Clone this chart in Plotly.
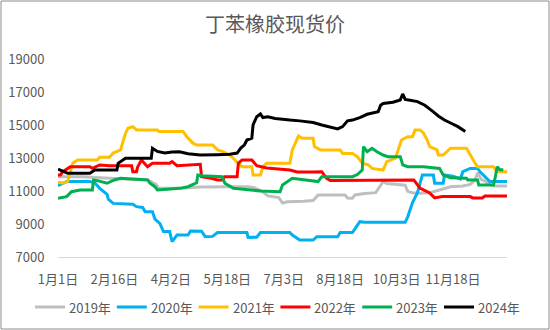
import plotly.graph_objects as go

# Day-of-year positions (leap-year calendar) and tick labels
tick_days = [0, 46, 92, 138, 184, 230, 276, 322]
tick_text = ["1月1日", "2月16日", "4月2日", "5月18日", "7月3日", "8月18日", "10月3日", "11月18日"]

y_ticks = [7000, 9000, 11000, 13000, 15000, 17000, 19000]
y_tick_text = [str(v) for v in y_ticks]

# 2019
day_2019 = [0, 20, 38, 55, 71, 73, 80, 82, 100, 112, 116, 140, 155, 160, 166, 171, 180, 183, 187,
            200, 208, 212, 234, 236, 240, 242, 250, 259, 262, 265, 268, 276, 283, 285, 289, 295,
            303, 311, 315, 320, 330, 336, 340, 342, 345, 348, 352, 356, 366]
val_2019 = [11870, 11870, 11790, 11720, 11700, 11670, 11400, 11180, 11160, 11200, 11240, 11260, 11260,
            11200, 11000, 10700, 10600, 10270, 10350, 10380, 10420, 10760, 10760, 10580, 10560, 10760,
            10850, 10900, 11200, 11570, 11450, 11400, 11350, 10980, 10900, 10870, 10900, 11060, 11160,
            11260, 11300, 11400, 11670, 12100, 11700, 11600, 11400, 11300, 11300]

# 2020
day_2020 = [0, 7, 26, 30, 34, 40, 41, 45, 61, 64, 69, 71, 77, 79, 83, 86, 91, 93, 97, 106, 108, 116,
            117, 120, 126, 130, 154, 155, 162, 165, 189, 191, 197, 208, 211, 228, 230, 240, 246, 250,
            283, 285, 289, 293, 295, 297, 306, 307, 314, 315, 322, 328, 330, 336, 342, 344, 348, 352, 366]
val_2020 = [11320, 11570, 11570, 11500, 11160, 10800, 10500, 10250, 10200, 10050, 10000, 9750, 9750,
            9300, 9040, 8540, 8540, 7930, 8330, 8330, 8580, 8580, 8560, 8230, 8250, 8480, 8480, 8190,
            8200, 8480, 8480, 8330, 8030, 8030, 8230, 8230, 8480, 8480, 9140, 9100, 9100, 9420, 10300,
            10900, 11500, 11970, 11970, 11470, 11470, 11970, 11900, 11730, 12170, 12370, 12370, 12170,
            11870, 11570, 11570]

# 2021
day_2021 = [0, 4, 8, 10, 12, 16, 32, 34, 42, 45, 51, 53, 55, 57, 61, 64, 81, 82, 102, 105, 110, 113,
            126, 130, 134, 140, 146, 150, 158, 159, 165, 167, 170, 189, 191, 196, 199, 208, 209, 214,
            230, 232, 240, 244, 248, 253, 256, 265, 268, 275, 280, 285, 289, 291, 295, 298, 301, 303,
            309, 310, 314, 317, 320, 333, 336, 340, 342, 355, 358, 366]
val_2021 = [11530, 11470, 11600, 12070, 12680, 12880, 12880, 13040, 13040, 13300, 13490, 14000, 14500,
            14800, 14900, 14700, 14700, 14600, 14600, 14290, 13900, 13790, 13790, 13490, 13400, 13180,
            12780, 12470, 12470, 11970, 11970, 12470, 12680, 12680, 13490, 14330, 14190, 14190, 13690,
            13490, 13490, 13280, 13280, 13080, 12680, 12580, 12370, 12270, 12780, 12990, 14090, 14290,
            14290, 14700, 14700, 14500, 14090, 13690, 13490, 13180, 13180, 13380, 13590, 13590, 13180,
            12680, 12470, 12470, 12170, 12170]

# 2022
day_2022 = [0, 2, 4, 10, 26, 28, 34, 42, 60, 61, 64, 65, 68, 73, 77, 91, 93, 97, 116, 117, 125, 130,
            134, 136, 146, 147, 150, 158, 162, 166, 170, 189, 195, 208, 215, 219, 222, 290, 292, 295,
            303, 307, 313, 336, 338, 346, 348, 366]
val_2022 = [11970, 11970, 12170, 12470, 12470, 12370, 12580, 12530, 12530, 12170, 12170, 12470, 12880,
            12470, 12680, 12680, 12780, 12530, 12620, 11870, 11770, 11670, 11670, 11870, 11870, 12680,
            12880, 12880, 12530, 12470, 12400, 12270, 12150, 12150, 12170, 11770, 11630, 11670, 11470,
            11180, 10880, 10580, 10660, 10660, 10580, 10580, 10700, 10700]

# 2023
day_2023 = [0, 7, 11, 18, 28, 29, 32, 40, 46, 51, 73, 75, 79, 81, 89, 99, 106, 113, 114, 117, 134,
            136, 143, 154, 165, 181, 183, 191, 197, 212, 215, 240, 244, 248, 249, 252, 256, 260, 265,
            269, 279, 281, 285, 298, 311, 314, 320, 333, 334, 342, 343, 355, 356, 358, 360, 363]
val_2023 = [10560, 10660, 10960, 11060, 11060, 11670, 11630, 11470, 11670, 11770, 11670, 11470, 11260,
            11060, 11100, 11160, 11260, 11500, 11970, 11920, 11870, 11470, 11160, 11100, 11000, 10960,
            11360, 11770, 11720, 11570, 11870, 11870, 12000, 12270, 13690, 13380, 13590, 13380, 13180,
            13080, 13080, 12580, 12470, 12470, 12370, 11970, 11800, 11770, 11670, 11670, 11360, 11360,
            11670, 12470, 12300, 12270]

# 2024
day_2024 = [0, 4, 8, 16, 26, 30, 48, 49, 55, 76, 77, 81, 87, 93, 99, 106, 116, 130, 140, 146, 149,
            152, 154, 158, 159, 162, 165, 167, 171, 177, 181, 189, 197, 208, 215, 222, 228, 232, 236,
            240, 246, 252, 258, 261, 263, 265, 273, 279, 281, 283, 287, 293, 299, 303, 306, 310, 315,
            320, 326, 332]
val_2024 = [12320, 12200, 12070, 12070, 12080, 12270, 12270, 12680, 12980, 12980, 13590, 13400, 13300,
            13360, 13380, 13260, 13180, 13200, 13230, 13300, 13600, 13800, 14090, 14200, 15000, 15500,
            15670, 15450, 15500, 15400, 15380, 15300, 15250, 15150, 15000, 14880, 14760, 14900, 15250,
            15300, 15450, 15650, 15720, 15800, 16200, 16300, 16380, 16520, 16880, 16550, 16500, 16420,
            16200, 16000, 15800, 15550, 15300, 15120, 14900, 14600]

series = [
    ("2019年", day_2019, val_2019, "#BFBFBF"),
    ("2020年", day_2020, val_2020, "#00B0F0"),
    ("2021年", day_2021, val_2021, "#FFC000"),
    ("2022年", day_2022, val_2022, "#FF0000"),
    ("2023年", day_2023, val_2023, "#00B050"),
    ("2024年", day_2024, val_2024, "#000000"),
]

FONT = "Noto Sans CJK SC"
TXT = "#595959"

# plot area in pixels: left 58, right 507, top 59, bottom 257
L, R, T, B = 58, 507, 59, 257
W, H = 550, 330
pw, ph = R - L, B - T


def px_x(p):
    return (p - L) / pw


def px_y(p):
    return (B - p) / ph


fig = go.Figure()
for name, xs, ys, color in series:
    fig.add_trace(go.Scatter(
        x=xs, y=ys, name=name, mode="lines",
        line=dict(color=color, width=3), showlegend=False,
    ))

# legend row under the axis: swatch line + label per series
shapes = []
annotations = []
leg_y = px_y(307)
for i, (name, _, _, color) in enumerate(series):
    x0 = 35 + i * 81.8
    shapes.append(dict(type="line", xref="paper", yref="paper",
                       x0=px_x(x0), x1=px_x(x0 + 30), y0=leg_y, y1=leg_y,
                       line=dict(color=color, width=3)))
    annotations.append(dict(text=name, xref="paper", yref="paper",
                            x=px_x(x0 + 32), y=leg_y, xanchor="left", yanchor="middle",
                            showarrow=False, font=dict(family=FONT, size=13, color=TXT)))

# outer chart frame
shapes.append(dict(type="rect", xref="paper", yref="paper",
                   x0=px_x(1), x1=px_x(549), y0=px_y(329), y1=px_y(1),
                   line=dict(color="#8C8C8C", width=1), layer="below"))

fig.update_layout(
    width=W, height=H,
    margin=dict(l=L, r=W - R, t=T, b=H - B, pad=0, autoexpand=False),
    paper_bgcolor="white", plot_bgcolor="white",
    font=dict(family=FONT, size=13, color=TXT),
    title=dict(text="丁苯橡胶现货价", x=0.5, xref="container", xanchor="center",
               y=1 - 25 / H, yref="container", yanchor="middle",
               font=dict(family=FONT, size=20, color=TXT)),
    xaxis=dict(range=[0, 366], tickvals=tick_days, ticktext=tick_text,
               showgrid=False, zeroline=False, showline=True, linecolor="#D9D9D9",
               linewidth=1, ticks="outside", ticklen=10, tickcolor="rgba(0,0,0,0)",
               tickfont=dict(size=13, color=TXT), automargin=False),
    yaxis=dict(range=[7000, 19000], tickvals=y_ticks, ticktext=y_tick_text,
               showgrid=False, zeroline=False, showline=False, ticks="outside",
               ticklen=10, tickcolor="rgba(0,0,0,0)",
               tickfont=dict(size=13, color=TXT), automargin=False),
    shapes=shapes,
    annotations=annotations,
    showlegend=False,
)

fig.write_html("out.html")
